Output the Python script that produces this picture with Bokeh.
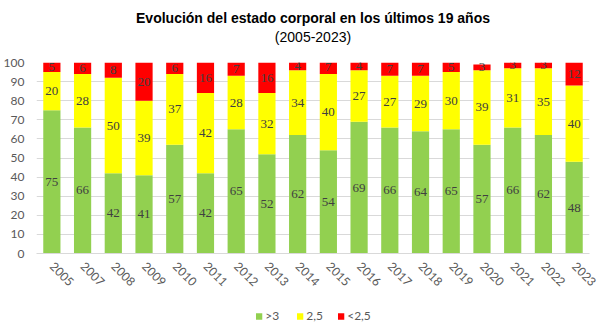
import math
from bokeh.plotting import figure
from bokeh.layouts import column
from bokeh.models import (ColumnDataSource, Range1d, LabelSet, Legend, LegendItem,
                          Title, SingleIntervalTicker, FactorRange)
from bokeh.embed import file_html
from bokeh.resources import INLINE

years = ["2005", "2007", "2008", "2009", "2010", "2011", "2012", "2013", "2014",
         "2015", "2016", "2017", "2018", "2019", "2020", "2021", "2022", "2023"]
gt3 = [75, 66, 42, 41, 57, 42, 65, 52, 62, 54, 69, 66, 64, 65, 57, 66, 62, 48]
mid = [20, 28, 50, 39, 37, 42, 28, 32, 34, 40, 27, 27, 29, 30, 39, 31, 35, 40]
lt25 = [5, 6, 8, 20, 6, 16, 7, 16, 4, 7, 4, 7, 7, 5, 3, 3, 3, 12]

series = ["gt3", "mid", "lt25"]
names = [">3", "2,5", "<2,5"]
colors = ["#92D050", "#FFFF00", "#FF0000"]

src = ColumnDataSource(dict(x=years, gt3=gt3, mid=mid, lt25=lt25))

p = figure(x_range=FactorRange(*years, range_padding=0), y_range=Range1d(0, 100),
           width=600, height=308,
           output_backend="svg", toolbar_location=None,
           min_border_left=36, min_border_right=11, min_border_top=62,
           min_border_bottom=55)
p.outline_line_color = None
p.background_fill_color = "white"

rs = p.vbar_stack(series, x="x", width=0.56, color=colors, source=src,
                  line_color=None)

# segment labels
for i, s in enumerate(series):
    base = [0] * len(years)
    for j in range(i):
        base = [b + v for b, v in zip(base, src.data[series[j]])]
    ys = [b + v / 2 for b, v in zip(base, src.data[s])]
    lsrc = ColumnDataSource(dict(x=years, y=ys, t=[str(v) for v in src.data[s]]))
    p.add_layout(LabelSet(x="x", y="y", text="t", source=lsrc,
                          text_align="center", text_baseline="middle",
                          text_font="Lato", text_font_size="13px",
                          text_color="#404040"))

p.yaxis.ticker = SingleIntervalTicker(interval=10)
p.ygrid.ticker = SingleIntervalTicker(interval=10)
p.ygrid.grid_line_color = "#d9d9d9"
p.xgrid.grid_line_color = None
p.yaxis.axis_line_color = None
p.yaxis.major_tick_line_color = None
p.yaxis.minor_tick_line_color = None
p.yaxis.major_tick_out = 0
p.yaxis.major_label_text_font = "Lato"
p.yaxis.major_label_text_font_size = "12px"
p.yaxis.major_label_text_color = "#595959"
p.yaxis.major_label_standoff = 8

p.xaxis.axis_line_color = "#d9d9d9"
p.xaxis.major_tick_line_color = None
p.xaxis.minor_tick_line_color = None
p.xaxis.major_tick_out = 0
p.xaxis.major_tick_in = 0
p.xaxis.axis_label_standoff = 0
p.xaxis.major_label_orientation = -math.pi / 4
p.xaxis.major_label_text_font = "Lato"
p.xaxis.major_label_text_font_size = "12px"
p.xaxis.major_label_text_color = "#595959"
p.xaxis.major_label_standoff = 11

# titles (spacer title keeps the gap between subtitle and plot area)
p.add_layout(Title(text=" ", text_font_size="1px", standoff=14), "above")
p.add_layout(Title(text="(2005-2023)", align="center", text_font="Liberation Sans",
                   text_font_size="14px", text_font_style="normal",
                   text_color="#000000", standoff=2), "above")
p.add_layout(Title(text="Evolución del estado corporal en los últimos 19 años",
                   align="center", text_font="Liberation Sans",
                   text_font_size="14px", text_font_style="bold",
                   text_color="#000000", standoff=0), "above")

# legend strip below the chart (zero-size proxy bars carry the legend colours)
lg = figure(width=600, height=17, output_backend="svg", toolbar_location=None,
            x_range=Range1d(0, 1), y_range=Range1d(0, 1),
            min_border=0)
lg.axis.visible = False
lg.grid.visible = False
lg.outline_line_color = None
proxy = ColumnDataSource(dict(x=[0], top=[0]))
dummies = [lg.vbar(x="x", top="top", width=0, source=proxy, color=c, line_color=None)
           for c in colors]
legend = Legend(items=[LegendItem(label=n, renderers=[r]) for n, r in zip(names, dummies)],
                orientation="horizontal", location="top_center",
                label_text_font="Lato", label_text_font_size="12px",
                label_text_color="#595959", glyph_width=8, glyph_height=8,
                spacing=10, label_standoff=3, border_line_color=None,
                background_fill_alpha=0, padding=0, margin=0,
                label_height=12)
lg.add_layout(legend, "center")

layout = column(p, lg, spacing=0)
open("out.html", "w").write(file_html(layout, INLINE))
